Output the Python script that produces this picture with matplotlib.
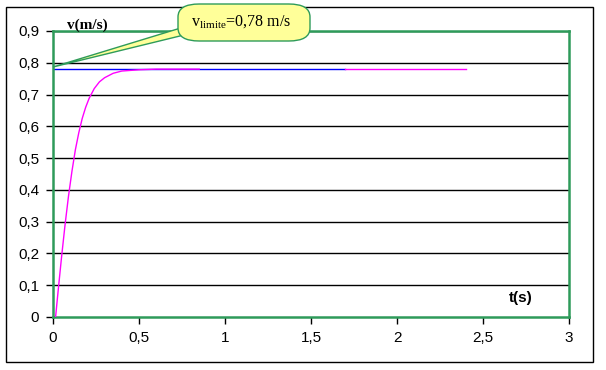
import numpy as np
import matplotlib
matplotlib.use('Agg')
import matplotlib.pyplot as plt
from matplotlib.patches import Rectangle, FancyBboxPatch, Polygon

# velocidade (curva magenta)
t_curva = [0.015, 0.03, 0.05, 0.07, 0.09, 0.11, 0.13, 0.15, 0.17, 0.19, 0.21,
           0.24, 0.27, 0.30, 0.35, 0.40, 0.50, 0.60, 0.85]
v_curva = [0.0, 0.083, 0.190, 0.290, 0.380, 0.458, 0.526, 0.580, 0.625, 0.660, 0.688,
           0.719, 0.740, 0.753, 0.767, 0.774, 0.778, 0.78, 0.78]
t_fim = [1.7, 2.4]
v_fim = [0.78, 0.78]

# velocidade limite (linha azul)
t_limite = [0.0, 1.7]
v_limite = [0.78, 0.78]

x_ticks = [0, 0.5, 1, 1.5, 2, 2.5, 3]
x_labels = ['0', '0,5', '1', '1,5', '2', '2,5', '3']
y_ticks = [0, 0.1, 0.2, 0.3, 0.4, 0.5, 0.6, 0.7, 0.8, 0.9]
y_labels = ['0', '0,1', '0,2', '0,3', '0,4', '0,5', '0,6', '0,7', '0,8', '0,9']

plt.rcParams['font.family'] = 'Liberation Sans'
plt.rcParams['mathtext.fontset'] = 'custom'
plt.rcParams['mathtext.rm'] = 'Liberation Serif'

W, H = 606, 370
verde = '#2E9B5A'

def px(x, y):
    return (x / W, 1 - y / H)

fig = plt.figure(figsize=(W / 100, H / 100), dpi=100)
ax = fig.add_axes([53 / W, (H - 317) / H, 516 / W, 286 / H])

ax.plot(t_limite, v_limite, color='#0000FF', lw=1, zorder=2)
ax.plot(t_curva, v_curva, color='#FF00FF', lw=1, zorder=3)
ax.plot(t_fim, v_fim, color='#FF00FF', lw=1, zorder=3)

ax.set_xlim(0, 3)
ax.set_ylim(0, 0.9)
ax.set_xticks(x_ticks)
ax.set_xticklabels(x_labels, fontsize=11)
ax.set_yticks(y_ticks)
ax.set_yticklabels(y_labels, fontsize=11)
ax.tick_params(direction='out', length=5, width=1, color='black', pad=5)
for y in y_ticks[1:]:
    ax.axhline(y, color='black', lw=1, zorder=1)
for s in ax.spines.values():
    s.set_color(verde)
    s.set_linewidth(1.8)

fig.text(67 / W, 1 - 25 / H, 'v(m/s)', fontsize=11, fontweight='bold',
         family='Liberation Serif', va='center', ha='left')
fig.text(521 / W, 1 - 298 / H, 't(s)', fontsize=11, fontweight='bold',
         va='center', ha='center')

# moldura externa
fig.patches.append(Rectangle(px(6, 362), 587 / W, 355 / H, transform=fig.transFigure,
                             fill=False, edgecolor='black', lw=1))

# balão da legenda
tip = px(53, 67)
seta = Polygon([tip, px(184, 27), px(184, 35)], closed=True, transform=fig.transFigure,
               facecolor='#FFFF99', edgecolor=verde, lw=1, zorder=5)
fig.patches.append(seta)
caixa = FancyBboxPatch(px(178, 41), 132 / W, 37 / H, transform=fig.transFigure,
                       boxstyle='round,pad=0,rounding_size=0.035',
                       facecolor='#FFFF99', edgecolor=verde, lw=1, zorder=6)
fig.patches.append(caixa)
fig.text(241 / W, 1 - 22 / H, r'v$_{\mathrm{limite}}$=0,78 m/s', fontsize=11.5,
         family='Liberation Serif', ha='center', va='center', zorder=7)

fig.savefig('out.png', dpi=100)
